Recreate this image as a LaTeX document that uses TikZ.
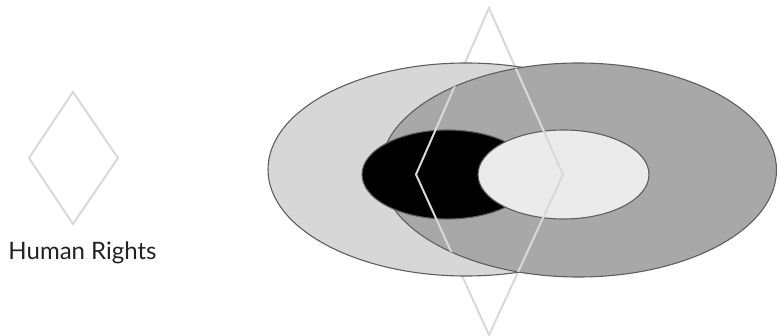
\documentclass[tikz,border=0pt]{standalone}
\usepackage{fontspec}
\setmainfont{Lato}
\definecolor{lightfill}{HTML}{D7D7D7}
\definecolor{darkfill}{HTML}{A8A8A8}
\definecolor{innerfill}{HTML}{EBEBEB}
\definecolor{edgegray}{HTML}{5E5E5E}
\definecolor{diamgray}{HTML}{D9D9D9}
\definecolor{textgray}{HTML}{222222}
\begin{document}
\begin{tikzpicture}[x=1pt,y=-1pt,
  diam/.style={draw=diamgray,line width=2pt,line join=miter},
  blob/.style={draw=edgegray,line width=1.1pt}]
\useasboundingbox (0,0) rectangle (778,336);
% big diamond behind
\draw[diam] (489,8) -- (563,174.5) -- (489,335) -- (416,174.5) -- cycle;
% ellipses
\path[blob,fill=lightfill] (466,169.5) ellipse (198 and 106.5);
\path[blob,fill=darkfill] (578.5,170) ellipse (198 and 107);
\path[blob,fill=black] (447.5,174.5) ellipse (85.5 and 44.5);
\path[blob,fill=innerfill] (563.5,174.5) ellipse (85.5 and 44.5);
% diamond on top inside dark ellipse
\begin{scope}
\clip (578.5,170) ellipse (198 and 107);
\draw[diam] (489,8) -- (563,174.5) -- (489,335) -- (416,174.5) -- cycle;
\end{scope}
% small diamond legend
\draw[diam] (73,92) -- (118,158) -- (73,224) -- (29,158) -- cycle;
\node[text=textgray,font=\fontsize{24}{28}\selectfont,inner sep=0pt,anchor=base] (hr) at (82.5,260) {Human Rights};
\end{tikzpicture}
\end{document}
